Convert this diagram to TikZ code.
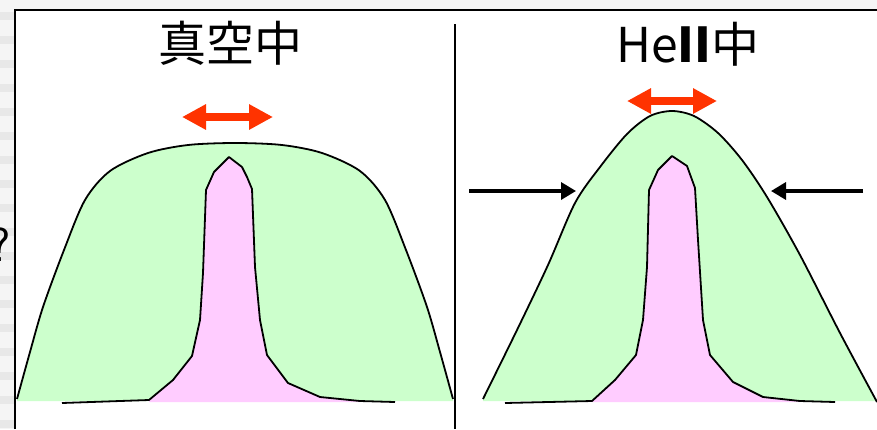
\documentclass[tikz,border=0pt]{standalone}
\usepackage{fontspec}
\newfontfamily\jpfont{Noto Sans CJK JP}
\definecolor{mint}{HTML}{CCFFCC}
\definecolor{lilac}{HTML}{FFCCFF}
\definecolor{vermilion}{HTML}{FF3300}
\usetikzlibrary{arrows.meta}

\begin{document}
\begin{tikzpicture}[x=1pt, y=-1pt,
  outline/.style={draw=black, line width=1.8pt, line join=round},
  title/.style={font=\jpfont\fontsize{48}{48}\selectfont, inner sep=0pt, anchor=base},
  spread/.style={draw=vermilion, line width=8pt,
                 {Triangle[length=24pt,width=24pt]}-{Triangle[length=24pt,width=24pt]}},
  press/.style={draw=black, line width=3.4pt, -{Triangle[length=15pt,width=17pt]}},
]
\useasboundingbox (0,0) rectangle (877,429);
\clip (0,0) rectangle (877,429);
\fill[gray!8] (0,0) rectangle (877,10);
\fill[gray!8] (0,0) rectangle (15,429);
\foreach \k in {0,...,17}
  \fill[gray!18] (0,12+24*\k) rectangle (15,20+24*\k);
\fill[white] (15,10) rectangle (877,429);
\node[font=\sffamily\fontsize{48}{48}\selectfont] (q) at (0,245) {?};

\fill[mint] (17,401) -- plot[smooth] coordinates {(17,399) (30,352) (43,307) (64,250) (85,200) (110,171) (148,153)
  (188,145) (235,143) (282,145) (322,153) (360,171) (385,200) (406,250) (427,307) (440,352) (453,399)} -- (453,401) -- cycle;
\draw[outline] plot[smooth] coordinates {(17,399) (30,352) (43,307) (64,250) (85,200) (110,171) (148,153)
  (188,145) (235,143) (282,145) (322,153) (360,171) (385,200) (406,250) (427,307) (440,352) (453,399)};
\fill[lilac] (149,402) -- (149,400) -- (173,380) -- (192,356) -- (200,320) -- (203,273) -- (206,190) -- (214,172)
  -- (229,157) -- (242,167) -- (247,177) -- (252,189) -- (255,267) -- (260,320) -- (267,355) -- (288,383)
  -- (320,397) -- (360,401) -- (360,402) -- cycle;
\draw[outline] (62,403) -- (149,400) -- (173,380) -- (192,356) -- (200,320) -- (203,273) -- (206,190) -- (214,172)
  -- (229,157) -- (242,167) -- (247,177) -- (252,189) -- (255,267) -- (260,320) -- (267,355) -- (288,383)
  -- (320,397) -- (360,401) -- (395,402);

\fill[mint] (483,401) -- plot[smooth] coordinates {(483,399) (517,330) (548,265) (575,203) (600,167) (627,134)
  (650,116) (672,111) (694,116) (718,133) (742,160) (767,197) (800,255) (840,333) (877,402)} -- (877,401) -- cycle;
\draw[outline] plot[smooth] coordinates {(483,399) (517,330) (548,265) (575,203) (600,167) (627,134)
  (650,116) (672,111) (694,116) (718,133) (742,160) (767,197) (800,255) (840,333) (877,402)};
\fill[lilac] (592,402) -- (592,401) -- (615,380) -- (636,355) -- (643,320) -- (647,267) -- (649,190) -- (658,170)
  -- (672,156) -- (687,166) -- (695,188) -- (698,240) -- (703,320) -- (710,355) -- (733,382) -- (763,397)
  -- (800,401) -- (800,402) -- cycle;
\draw[outline] (505,403) -- (592,401) -- (615,380) -- (636,355) -- (643,320) -- (647,267) -- (649,190) -- (658,170)
  -- (672,156) -- (687,166) -- (695,188) -- (698,240) -- (703,320) -- (710,355) -- (733,382) -- (763,397)
  -- (800,401) -- (835,402);

\draw[line width=2pt] (15,429) -- (15,10) -- (877,10);
\draw[line width=2pt] (454.5,24) -- (454.5,429);

\node[title] (vac) at (230,61) {真空中};
\node[title] (heii) at (688,62) {He{\bfseries II}中};

\coordinate (v1) at (182,117);
\coordinate (v2) at (273,117);
\coordinate (h1) at (627,101);
\coordinate (h2) at (717,101);
\draw[spread] (v1) -- (v2);
\draw[spread] (h1) -- (h2);

\coordinate (l0) at (469,191);
\coordinate (l1) at (576,191);
\coordinate (r0) at (863,191);
\coordinate (r1) at (771,191);
\draw[press] (l0) -- (l1);
\draw[press] (r0) -- (r1);
\end{tikzpicture}
\end{document}
